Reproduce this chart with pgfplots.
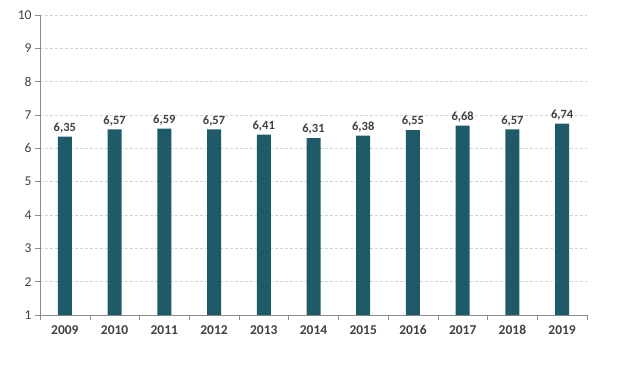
\documentclass[border=0pt]{standalone}
\usepackage{fontspec}
\setmainfont{Carlito}
\usepackage{pgfplots}
\pgfplotsset{compat=1.18}
\definecolor{barc}{HTML}{1F5A68}
\definecolor{txt}{HTML}{404040}
\definecolor{axc}{HTML}{8C8C8C}
\begin{document}
\begin{tikzpicture}
\path[use as bounding box] (-40pt,-53pt) rectangle (580pt,315pt);
\begin{axis}[
  scale only axis, width=547pt, height=300pt,
  xmin=-0.5, xmax=10.5, ymin=1, ymax=10,
  ytick={1,...,10},
  xtick={0,...,10},
  xticklabels={2009,2010,2011,2012,2013,2014,2015,2016,2017,2018,2019},
  minor xtick={-0.5,0.5,...,10.5},
  major x tick style={draw=none},
  minor tick length=5pt,
  major tick length=5pt,
  tick align=outside,
  axis x line*=bottom, axis y line*=left,
  axis line style={axc},
  every tick/.style={axc},
  ymajorgrids, grid style={densely dashed, gray!35},
  xticklabel style={font=\bfseries\fontsize{13.5}{14}\selectfont, text=txt, yshift=-2pt},
  yticklabel style={font=\fontsize{13.5}{14}\selectfont, text=txt},
  /pgf/number format/assume math mode=true,
  ybar, bar width=14pt,
  nodes near coords,
  nodes near coords style={font=\bfseries\fontsize{12.5}{13}\selectfont, text=txt,
    /pgf/number format/.cd, fixed, fixed zerofill, precision=2, use comma},
]
\addplot[fill=barc, draw=none] coordinates {
(0,6.35) (1,6.57) (2,6.59) (3,6.57) (4,6.41) (5,6.31) (6,6.38) (7,6.55) (8,6.68) (9,6.57) (10,6.74)};
\end{axis}
\end{tikzpicture}
\end{document}
